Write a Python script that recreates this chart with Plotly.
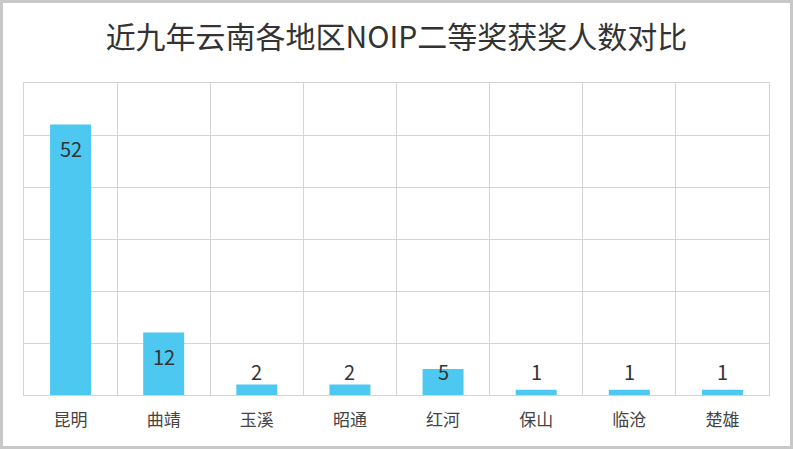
import plotly.graph_objects as go

categories = ["昆明", "曲靖", "玉溪", "昭通", "红河", "保山", "临沧", "楚雄"]
values = [52, 12, 2, 2, 5, 1, 1, 1]
title_text = "近九年云南各地区NOIP二等奖获奖人数对比"

W, H = 793, 449
ML, MR, MT, MB = 24, 24, 83, 54
YMAX = 60

fig = go.Figure()
fig.add_trace(go.Bar(
    x=categories, y=values,
    marker=dict(color="#4dc8f1", line=dict(width=0)),
    hoverinfo="x+y",
))

grid = "#d4d4d4"
fig.update_layout(
    width=W, height=H,
    margin=dict(l=ML, r=MR, t=MT, b=MB),
    paper_bgcolor="white", plot_bgcolor="white",
    bargap=0.56,
    showlegend=False,
    title=dict(text=title_text, x=0.5, xanchor="center", y=1 - 37 / H, yanchor="middle",
               font=dict(family="Noto Sans CJK SC", size=30, color="#333333")),
    font=dict(family="Noto Sans CJK SC", color="#333333"),
)
fig.update_xaxes(
    type="category", tickson="boundaries", showgrid=True, gridcolor=grid, gridwidth=1,
    showline=True, linecolor=grid, linewidth=1, mirror=True,
    ticks="", ticklen=0, ticklabelstandoff=10, tickfont=dict(size=17, color="#444444"),
)
fig.update_yaxes(
    range=[0, YMAX], dtick=10, showgrid=True, gridcolor=grid, gridwidth=1,
    showline=True, linecolor=grid, linewidth=1, mirror=True,
    showticklabels=False, ticks="", zeroline=False,
)

# value labels
for c, v in zip(categories, values):
    if v >= 10:
        fig.add_annotation(x=c, y=v, yref="y", text=str(v), showarrow=False,
                           yanchor="middle", yshift=-24,
                           font=dict(size=20, color="#333333", family="Noto Sans CJK SC"))
    else:
        fig.add_annotation(x=c, y=0, yref="y", text=str(v), showarrow=False,
                           yanchor="middle", yshift=24,
                           font=dict(size=20, color="#333333", family="Noto Sans CJK SC"))

# outer frame
pw = W - ML - MR
ph = H - MT - MB
fig.add_shape(type="rect", xref="paper", yref="paper",
              x0=-(ML - 1.5) / pw, x1=1 + (MR - 1.5) / pw,
              y0=-(MB - 1.5) / ph, y1=1 + (MT - 1.5) / ph,
              line=dict(color="#c8c8c8", width=3), layer="below")

fig.write_html("out.html", config={"displayModeBar": False},
               post_script="document.body.style.margin='0';document.body.style.overflow='hidden';")
